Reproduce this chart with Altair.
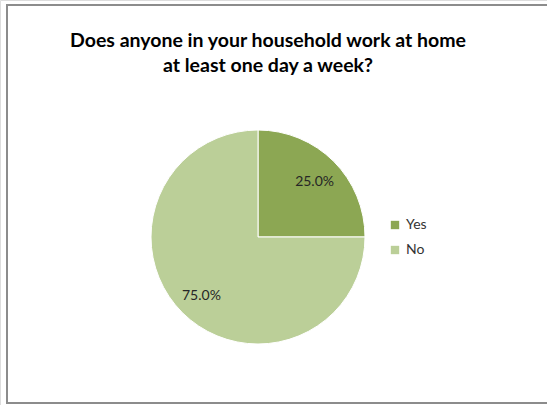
import altair as alt
import pandas as pd

categories = ["Yes", "No"]
values = [25.0, 75.0]
labels = ["25.0%", "75.0%"]
colors = ["#8CA753", "#BBCF98"]
title_lines = ["Does anyone in your household work at home", "at least one day a week?"]

df = pd.DataFrame({"answer": categories, "value": values, "label": labels,
                   "order": list(range(len(categories)))})

CX, CY, R = 258, 237, 107

base = alt.Chart(df).encode(
    theta=alt.Theta("value:Q", stack=True),
    order=alt.Order("order:Q"),
)

color_enc = alt.Color(
    "answer:N",
    scale=alt.Scale(domain=categories, range=colors),
    sort=categories,
    legend=alt.Legend(
        title=None, orient="none", legendX=388, legendY=218,
        symbolType="square", symbolSize=70, symbolStrokeWidth=0,
        labelFont="Lato", labelFontSize=14, labelColor="#333333",
        rowPadding=11, labelOffset=4,
    ),
)

pie = base.mark_arc(outerRadius=R, stroke="white", strokeWidth=1).encode(
    color=color_enc,
    x=alt.value(CX), y=alt.value(CY),
)

text = base.mark_text(font="Lato", fontSize=14, color="#262626", dy=2).encode(
    text="label:N",
    radius=alt.value(80),
    x=alt.value(CX), y=alt.value(CY),
)

title_df = pd.DataFrame({"t": title_lines, "i": [0, 1]})
title = alt.Chart(title_df).mark_text(
    font="Lato", fontSize=19.5, fontWeight="bold", color="#000000", baseline="middle"
).encode(
    text="t:N",
    x=alt.value(268),
    y=alt.Y("i:Q", scale=alt.Scale(domain=[0, 1], range=[41, 66]), axis=None),
)

border = alt.Chart(pd.DataFrame({"a": [0]})).mark_rect(
    fill=None, stroke="#8c8c8c", strokeWidth=2
).encode(
    x=alt.value(7), x2=alt.value(600), y=alt.value(5), y2=alt.value(403),
)

chart = alt.layer(border, pie, text, title).properties(
    width=547, height=405,
    autosize=alt.AutoSizeParams(type="none"),
    padding=0,
).configure_view(stroke=None).configure(background="white")

chart.save("out.html", embed_options={"renderer": "svg", "actions": False})
